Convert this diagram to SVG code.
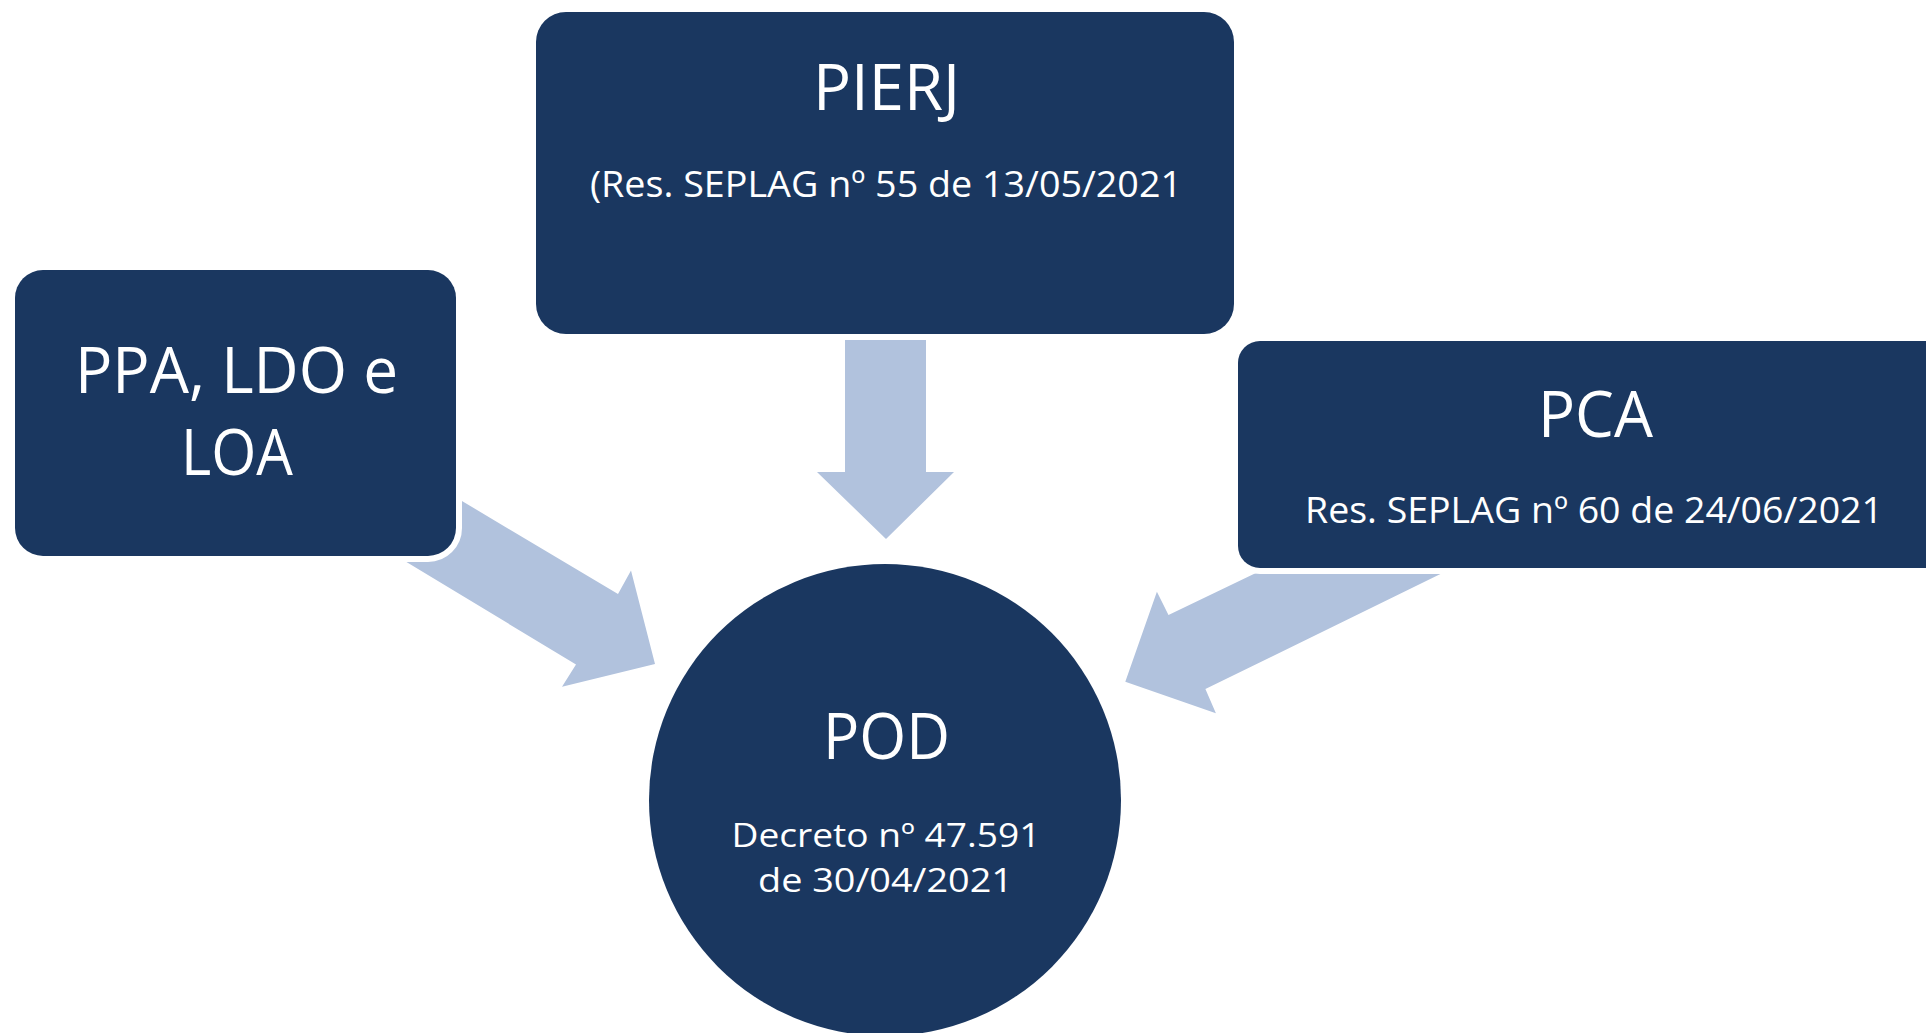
<svg xmlns="http://www.w3.org/2000/svg" width="1926" height="1033" viewBox="0 0 1926 1033">
<style>
.node{fill:#1a3760;stroke:#ffffff;stroke-width:12;paint-order:stroke;}
.arrow{fill:#b1c2dd;stroke:none;}
.t{font-family:"Open Sans","Noto Sans","DejaVu Sans",sans-serif;fill:#ffffff;text-anchor:middle;}
.title{font-size:64px;}
.sub{font-size:37px;}
.sub2{font-size:33px;}
</style>
<rect width="1926" height="1033" fill="#ffffff"/>
<g id="connectors">
<polygon class="arrow" points="845,320 926,320 926,472 954,472 886,539 817,472 845,472"/>
<polygon class="arrow" points="420,476 618,594 631,570.5 655,664 562,686.7 576,664.5 370,540"/>
<polygon class="arrow" points="1283,560 1469,560 1205.4,689 1215.9,713.3 1125.3,681.7 1156.9,591.7 1168.5,615"/>
</g>
<g id="node-pca">
<rect class="node" x="1238" y="341" width="714" height="227" rx="22" ry="22"/>
<text class="t title" x="1595.5" y="436.5" textLength="115" lengthAdjust="spacingAndGlyphs">PCA</text>
<text class="t sub" x="1594" y="523" textLength="578" lengthAdjust="spacingAndGlyphs">Res. SEPLAG nº 60 de 24/06/2021</text>
</g>
<g id="node-pierj">
<rect class="node" x="536" y="12" width="698" height="322" rx="30" ry="30"/>
<text class="t title" x="886.5" y="110" textLength="147" lengthAdjust="spacingAndGlyphs">PIERJ</text>
<text class="t sub" x="886" y="197" textLength="592" lengthAdjust="spacingAndGlyphs">(Res. SEPLAG nº 55 de 13/05/2021</text>
</g>
<g id="node-ppa">
<rect class="node" x="15" y="270" width="441" height="286" rx="28" ry="28"/>
<text class="t title" x="236.5" y="392.5" textLength="323" lengthAdjust="spacingAndGlyphs">PPA, LDO e</text>
<text class="t title" x="237" y="475" textLength="112" lengthAdjust="spacingAndGlyphs">LOA</text>
</g>
<g id="node-pod">
<circle cx="885" cy="800" r="236" fill="#1a3760"/>
<text class="t title" x="886.5" y="758.5" textLength="127" lengthAdjust="spacingAndGlyphs">POD</text>
<text class="t sub2" x="886" y="846.5" textLength="309" lengthAdjust="spacingAndGlyphs">Decreto nº 47.591</text>
<text class="t sub2" x="885.5" y="891.7" textLength="255" lengthAdjust="spacingAndGlyphs">de 30/04/2021</text>
</g>
</svg>
